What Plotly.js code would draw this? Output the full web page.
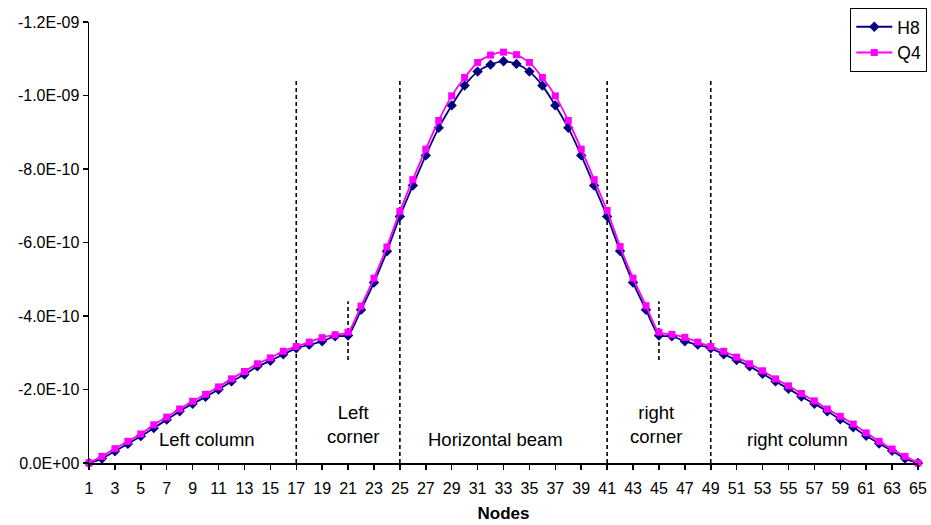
<!DOCTYPE html>
<html>
<head>
<meta charset="utf-8">
<script src="https://cdn.plot.ly/plotly-3.0.1.min.js"></script>
<style>
  html, body { margin: 0; padding: 0; background: #ffffff; }
  #chart { width: 931px; height: 525px; }
</style>
</head>
<body>
<div id="chart"></div>
<script>
// Node numbers along the frame (1 .. 65)
const nodes = [
  1, 2, 3, 4, 5, 6, 7, 8, 9, 10, 11, 12, 13, 14, 15, 16, 17, 18, 19, 20,
  21, 22, 23, 24, 25, 26, 27, 28, 29, 30, 31, 32, 33, 34, 35, 36, 37, 38, 39, 40,
  41, 42, 43, 44, 45, 46, 47, 48, 49, 50, 51, 52, 53, 54, 55, 56, 57, 58, 59, 60,
  61, 62, 63, 64, 65
];

// Vertical displacement per node for the H8 element model
const h8 = [
  0, -1.2e-11, -3.2e-11, -5.2e-11, -7.3e-11, -9.5e-11, -1.18e-10, -1.41e-10, -1.61e-10, -1.80e-10,
  -2.00e-10, -2.22e-10, -2.41e-10, -2.63e-10, -2.78e-10, -2.96e-10, -3.12e-10, -3.22e-10, -3.31e-10, -3.45e-10,
  -3.47e-10, -4.17e-10, -4.91e-10, -5.76e-10, -6.71e-10, -7.55e-10, -8.37e-10, -9.12e-10, -9.73e-10, -1.027e-09,
  -1.065e-09, -1.084e-09, -1.093e-09, -1.086e-09, -1.065e-09, -1.027e-09, -9.73e-10, -9.12e-10, -8.37e-10, -7.55e-10,
  -6.71e-10, -5.77e-10, -4.91e-10, -4.17e-10, -3.47e-10, -3.45e-10, -3.31e-10, -3.22e-10, -3.12e-10, -2.96e-10,
  -2.80e-10, -2.63e-10, -2.43e-10, -2.22e-10, -2.02e-10, -1.81e-10, -1.61e-10, -1.41e-10, -1.19e-10, -9.7e-11,
  -7.4e-11, -5.3e-11, -3.3e-11, -1.2e-11, 0
];

// Vertical displacement per node for the Q4 element model
const q4 = [
  0, -1.8e-11, -3.9e-11, -5.9e-11, -7.9e-11, -1.04e-10, -1.25e-10, -1.47e-10, -1.68e-10, -1.87e-10,
  -2.07e-10, -2.29e-10, -2.49e-10, -2.70e-10, -2.86e-10, -3.04e-10, -3.17e-10, -3.29e-10, -3.41e-10, -3.49e-10,
  -3.56e-10, -4.27e-10, -5.03e-10, -5.88e-10, -6.85e-10, -7.71e-10, -8.54e-10, -9.32e-10, -9.99e-10, -1.049e-09,
  -1.090e-09, -1.110e-09, -1.118e-09, -1.111e-09, -1.090e-09, -1.049e-09, -9.99e-10, -9.32e-10, -8.54e-10, -7.71e-10,
  -6.87e-10, -5.89e-10, -5.03e-10, -4.28e-10, -3.56e-10, -3.50e-10, -3.42e-10, -3.29e-10, -3.17e-10, -3.04e-10,
  -2.88e-10, -2.70e-10, -2.51e-10, -2.29e-10, -2.10e-10, -1.89e-10, -1.69e-10, -1.47e-10, -1.27e-10, -1.06e-10,
  -8.2e-11, -5.9e-11, -3.8e-11, -1.8e-11, 0
];

// Y-axis ticks and their labels
const yTickVals = [0, -2e-10, -4e-10, -6e-10, -8e-10, -1e-9, -1.2e-9];
const yTickText = ["0.0E+00", "-2.0E-10", "-4.0E-10", "-6.0E-10", "-8.0E-10", "-1.0E-09", "-1.2E-09"];

// Segment boundaries of the frame (full-height dashed dividers)
const segmentBounds = [17, 25, 41, 49];
const dividerTop = -1.04e-9;
// Corner mid-nodes (short dashed markers)
const cornerNodes = [21, 45];
const cornerSpan = [-2.8e-10, -4.4e-10];

// Segment labels
const segmentLabels = ["Left column", "Left<br>corner", "Horizontal beam", "right<br>corner", "right column"];
const segmentLabelX = [10.1, 21.35, 32.4, 44.8, 55.7];
const segmentLabelY = [-6.3e-11, -1.04e-10, -6.3e-11, -1.04e-10, -6.3e-11];

const FONT = "Liberation Sans, Arial, sans-serif";

const traces = [
  {
    x: nodes, y: h8, name: "H8", type: "scatter", mode: "lines+markers",
    line: { color: "#000080", width: 1.8, shape: "spline", smoothing: 0.6 },
    marker: { symbol: "diamond", size: 8, color: "#000080" },
    cliponaxis: false
  },
  {
    x: nodes, y: q4, name: "Q4", type: "scatter", mode: "lines+markers",
    line: { color: "#FF00FF", width: 1.8, shape: "spline", smoothing: 0.6 },
    marker: { symbol: "square", size: 7, color: "#FF00FF" },
    cliponaxis: false
  }
];

const dashStyle = { color: "#000000", width: 1.6, dash: "4px,3px" };
const shapes = [];
segmentBounds.forEach(n => shapes.push({
  type: "line", xref: "x", yref: "y", x0: n, x1: n, y0: 0, y1: dividerTop, line: dashStyle, layer: "below"
}));
cornerNodes.forEach(n => shapes.push({
  type: "line", xref: "x", yref: "y", x0: n, x1: n, y0: cornerSpan[0], y1: cornerSpan[1], line: dashStyle, layer: "below"
}));

const annotations = segmentLabels.map((t, i) => ({
  text: t, x: segmentLabelX[i], y: segmentLabelY[i], xref: "x", yref: "y",
  showarrow: false, xanchor: "center", yanchor: "middle",
  font: { family: FONT, size: 18.5, color: "#000000" }
}));

const layout = {
  width: 931, height: 525,
  margin: { l: 89, r: 13, t: 22, b: 62, pad: 0, autoexpand: false },
  paper_bgcolor: "#ffffff", plot_bgcolor: "#ffffff",
  font: { family: FONT, size: 16, color: "#000000" },
  showlegend: true,
  legend: {
    xref: "container", yref: "container", x: 0.996, y: 0.985,
    xanchor: "right", yanchor: "top",
    bordercolor: "#000000", borderwidth: 1, bgcolor: "#ffffff",
    font: { family: FONT, size: 17.5, color: "#000000" },
    itemwidth: 36,
    tracegroupgap: 0
  },
  xaxis: {
    range: [1, 65], tickmode: "array",
    tickvals: nodes.filter(n => n % 2 === 1),
    ticks: "outside", ticklen: 5, tickwidth: 1.5, tickcolor: "#000000",
    ticklabelstandoff: 5,
    showline: true, linecolor: "#000000", linewidth: 1.5,
    showgrid: false, zeroline: false,
    tickfont: { family: FONT, size: 16 },
    title: { text: "<b>Nodes</b>", font: { family: FONT, size: 17 }, standoff: 11 }
  },
  yaxis: {
    range: [0, -1.2e-9], tickmode: "array",
    tickvals: yTickVals, ticktext: yTickText,
    ticks: "outside", ticklen: 5, tickwidth: 1.5, tickcolor: "#000000",
    showline: true, linecolor: "#000000", linewidth: 1.5,
    showgrid: false, zeroline: false,
    tickfont: { family: FONT, size: 16 }
  },
  shapes: shapes,
  annotations: annotations
};

Plotly.newPlot("chart", traces, layout, { displayModeBar: false, staticPlot: true });
</script>
</body>
</html>
